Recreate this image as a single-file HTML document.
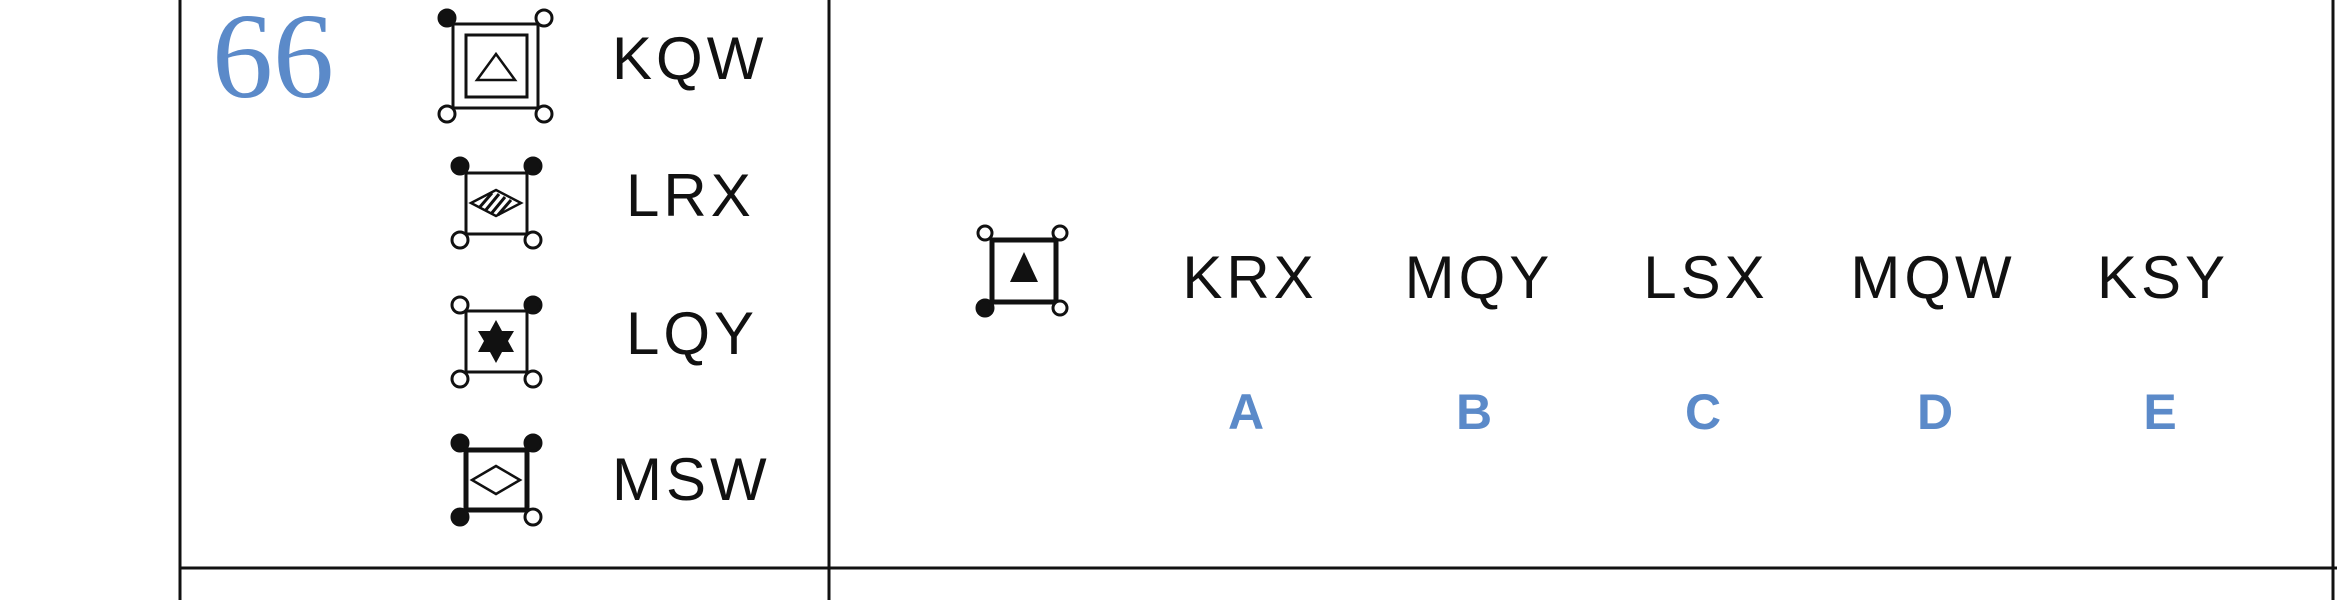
<!DOCTYPE html>
<html><head><style>
html,body{margin:0;padding:0;background:#fff;}
svg{display:block;}
.t{font-family:"Liberation Sans",sans-serif;font-size:60px;letter-spacing:4px;fill:#111;}
.l{font-family:"Liberation Sans",sans-serif;font-size:50px;font-weight:bold;fill:#5b8ac9;}
</style></head><body>
<svg width="2337" height="600" viewBox="0 0 2337 600" xmlns="http://www.w3.org/2000/svg">
<g stroke="#111" stroke-width="3" fill="none">
<line x1="180" y1="0" x2="180" y2="600"/>
<line x1="829" y1="0" x2="829" y2="600"/>
<line x1="2333" y1="0" x2="2333" y2="600"/>
<line x1="180" y1="568" x2="2337" y2="568"/>
</g>
<text x="212" y="97" font-family="Liberation Serif, serif" font-size="122" fill="#5b8ac9">66</text>

<!-- KQW icon -->
<g stroke="#111" stroke-width="3" fill="#fff">
<rect x="453" y="24" width="85" height="84" fill="none"/>
<rect x="466" y="35" width="61" height="62" fill="none"/>
<polygon points="496,54 477,80 515,80" fill="none" stroke-width="2.5"/>
<circle cx="447" cy="18" r="8" fill="#111"/>
<circle cx="544" cy="18" r="8"/>
<circle cx="447" cy="114" r="8"/>
<circle cx="544" cy="114" r="8"/>
</g>
<!-- LRX icon -->
<g stroke="#111" stroke-width="3" fill="#fff">
<rect x="466" y="173" width="61" height="61" fill="none"/>
<polygon points="496,190 521,203 496,216 471,203" fill="none" stroke-width="2.5"/>
<g stroke-width="3"><line x1="479" y1="208" x2="492" y2="193"/><line x1="485" y1="211" x2="499" y2="194"/><line x1="491" y1="214" x2="505" y2="197"/><line x1="498" y1="215" x2="511" y2="200"/></g>
<circle cx="460" cy="166" r="8" fill="#111"/>
<circle cx="533" cy="166" r="8" fill="#111"/>
<circle cx="460" cy="240" r="8"/>
<circle cx="533" cy="240" r="8"/>
</g>
<!-- LQY icon -->
<g stroke="#111" stroke-width="3" fill="#fff">
<rect x="466" y="311" width="61" height="61" fill="none"/>
<polygon points="496,320 502,331 514,331 508,341 514,352 502,352 496,363 490,352 478,352 484,341 478,331 490,331" fill="#111" stroke="none"/>
<circle cx="460" cy="305" r="8"/>
<circle cx="533" cy="305" r="8" fill="#111"/>
<circle cx="460" cy="379" r="8"/>
<circle cx="533" cy="379" r="8"/>
</g>
<!-- MSW icon -->
<g stroke="#111" stroke-width="5" fill="#fff">
<rect x="466" y="450" width="61" height="60" fill="none"/>
<polygon points="496,466 520,480 496,494 472,480" fill="none" stroke-width="2.5"/>
<circle cx="460" cy="443" r="8" fill="#111" stroke-width="3"/>
<circle cx="533" cy="443" r="8" fill="#111" stroke-width="3"/>
<circle cx="460" cy="517" r="8" fill="#111" stroke-width="3"/>
<circle cx="533" cy="517" r="8" stroke-width="3"/>
</g>
<text class="t" x="612" y="79">KQW</text>
<text class="t" x="626" y="216">LRX</text>
<text class="t" x="626" y="354">LQY</text>
<text class="t" x="612" y="500">MSW</text>

<!-- answer icon -->
<g stroke="#111" stroke-width="5" fill="#fff">
<rect x="992" y="240" width="64" height="62" fill="none"/>
<polygon points="1024,252 1010,282 1038,282" fill="#111" stroke="none"/>
<circle cx="985" cy="233" r="7" stroke-width="3"/>
<circle cx="1060" cy="233" r="7" stroke-width="3"/>
<circle cx="985" cy="308" r="8" fill="#111" stroke-width="3"/>
<circle cx="1060" cy="308" r="7" stroke-width="3"/>
</g>
<g text-anchor="middle">
<text class="t" x="1250" y="298">KRX</text>
<text class="t" x="1479" y="298">MQY</text>
<text class="t" x="1706" y="298">LSX</text>
<text class="t" x="1933" y="298">MQW</text>
<text class="t" x="2163" y="298">KSY</text>
</g>
<g text-anchor="middle">
<text class="l" x="1246" y="429">A</text>
<text class="l" x="1474" y="429">B</text>
<text class="l" x="1703" y="429">C</text>
<text class="l" x="1935" y="429">D</text>
<text class="l" x="2160" y="429">E</text>
</g>
</svg>
</body></html>
